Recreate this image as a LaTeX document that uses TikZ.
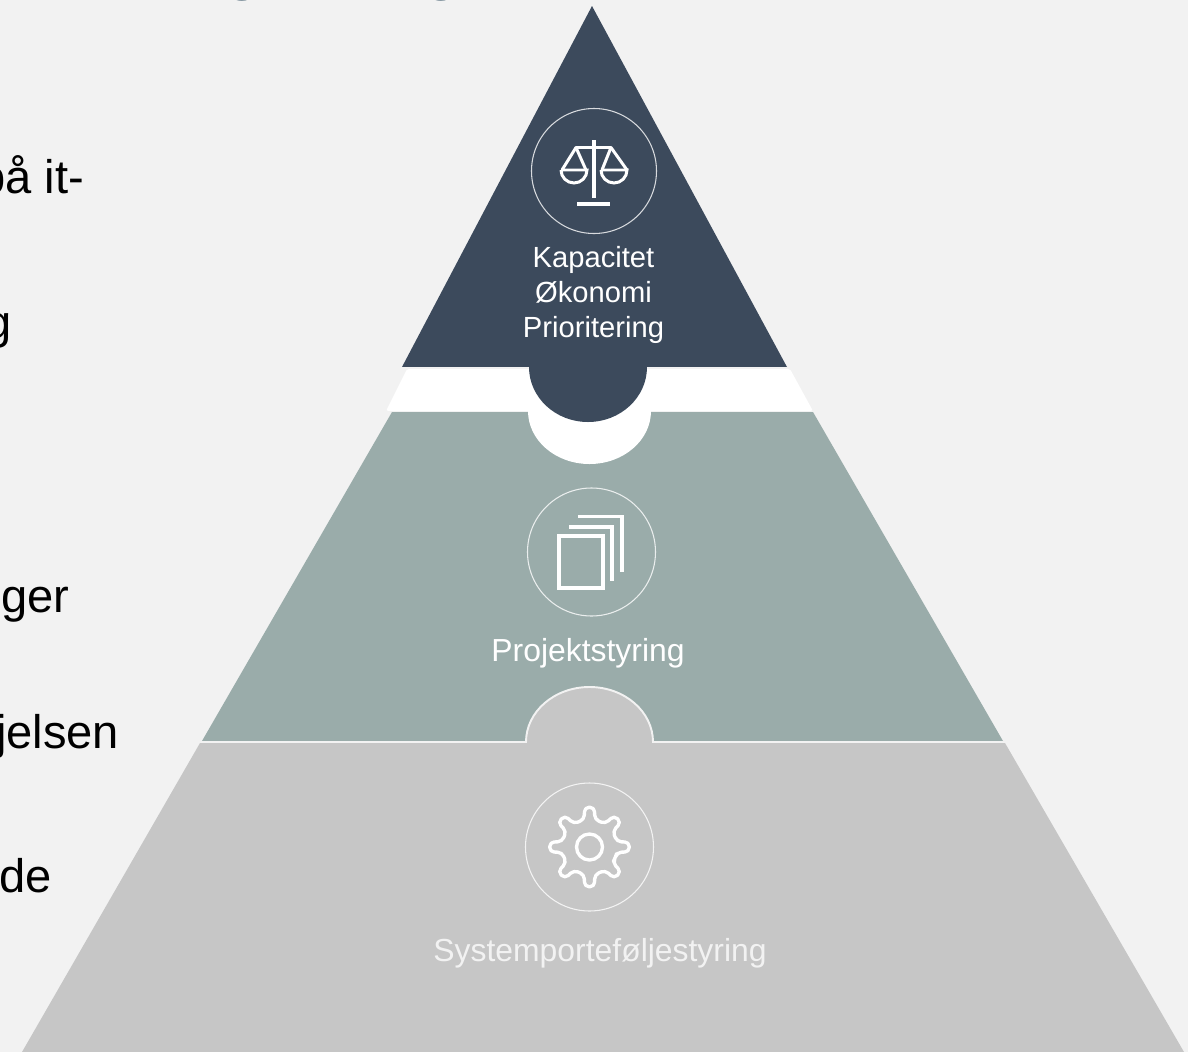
\documentclass[tikz,border=0pt]{standalone}
\usepackage{fontspec}
\setmainfont{Liberation Sans}
\definecolor{paper}{HTML}{F2F2F2}
\definecolor{navy}{HTML}{3C4A5C}
\definecolor{sage}{HTML}{9AACAA}
\definecolor{stone}{HTML}{C6C6C6}
\definecolor{headline}{HTML}{3F5B6D}
\tikzset{
  ring/.style={draw=white, line width=0.6pt, opacity=0.8},
  ico/.style={draw=white, line width=1.9pt, line join=miter},
  seam/.style={draw=paper, line width=1.1pt},
  side/.style={anchor=base east, inner sep=0pt, text=black, font=\fontsize{26.8}{32}\selectfont},
  lab/.style={anchor=base, align=center, text=white, font=\fontsize{18.15}{22}\selectfont},
  labs/.style={lab, font=\fontsize{16.6}{19.85}\selectfont},
  top/.style={anchor=base, text=headline, font=\fontsize{40}{48}\selectfont},
}
\begin{document}
\begin{tikzpicture}[x=0.02cm,y=0.02cm,yscale=-1]
  \useasboundingbox (0,0) rectangle (1188,1052);
  \clip (0,0) rectangle (1188,1052);
  \fill[paper] (0,0) rectangle (1188,1052);
  % cut off text on the left
  \node[top] (titleA) at (243,-14) {g};
  \node[top] (titleB) at (442,-14) {g};
  \node[side] (sideA) at (84.5,193.5) {på it-};
  \node[side] (sideB) at (12,338) {g};
  \node[side] (sideC) at (70,612) {ger};
  \node[side] (sideD) at (119.5,748) {jelsen};
  \node[side] (sideE) at (52.5,892) {de};
  % bottom tier
  \fill[stone] (200,743) -- (526,743) arc (180:360:63.5 and 56) -- (1005,743)
    -- (1184,1052) -- (22,1052) -- cycle;
  % middle tier
  \fill[sage] (392,412) -- (813,412) -- (1003,741) -- (653,741)
    arc (0:-180:63.5 and 54) -- (202,741) -- cycle;
  \draw[seam] (202,742) -- (526,742) arc (180:360:63.5 and 55) -- (1003,742);
  % white band and notch
  \fill[white, rounded corners=1pt] (407,369) -- (790,369) -- (813,411) -- (386,411) -- cycle;
  \fill[white] (528,411) arc (180:0:61.5 and 53) -- cycle;
  \draw[seam] (386,411.5) -- (528,411.5);
  \draw[seam] (652,411.5) -- (813,411.5);
  % top tier
  \fill[navy] (592,6) -- (787,367) -- (647,367) arc (0:180:59 and 55) -- (402,367) -- cycle;
  \draw[seam] (402,368) -- (529,368);
  \draw[seam] (647,368) -- (787,368);
  % top icon
  \node[ring, circle, minimum size=125*0.02cm, inner sep=0pt] (ringA) at (594,171) {};
  \draw[ico, line width=2.2pt] (594,140) -- (594,198);
  \draw[ico, line width=2.2pt] (577,204) -- (610,204);
  \draw[ico, line width=1.7pt, line join=round] (562,170) -- (576,147.5) -- (611,147.5) -- (627,170);
  \draw[ico, line width=1.7pt] (576,147.5) -- (586,170);
  \draw[ico, line width=1.7pt] (611,147.5) -- (602,170);
  \draw[ico, line width=1.7pt] (561,170) -- (587,170) arc (0:180:13 and 13);
  \draw[ico, line width=1.7pt] (601,170) -- (627,170) arc (0:180:13 and 13);
  \node[labs] (labA) at (593.5,337) {Kapacitet\\Økonomi\\Prioritering};
  % middle icon
  \node[ring, circle, minimum size=128*0.02cm, inner sep=0pt] (ringB) at (591.5,552) {};
  \draw[ico] (559,536) rectangle (603,588);
  \draw[ico] (569,527) -- (612,527) -- (612,581);
  \draw[ico] (578,516.5) -- (622,516.5) -- (622,572);
  \node[lab] (labB) at (588,661) {Projektstyring};
  % bottom icon
  \node[ring, circle, minimum size=128*0.02cm, inner sep=0pt] (ringC) at (589.5,847) {};
  \begin{scope}[shift={(589.5,847)}]
    \draw[ico] (0,0) circle (13);
    \draw[ico, line join=round, rounded corners=2.5pt] (22.5:28)
      \foreach \a in {45,90,...,360} { -- (\a-11:28) -- (\a-7:40) -- (\a+7:40) -- (\a+11:28) } -- cycle;
  \end{scope}
  \node[lab, text=paper] (labC) at (600,961) {Systemporteføljestyring};
\end{tikzpicture}
\end{document}
